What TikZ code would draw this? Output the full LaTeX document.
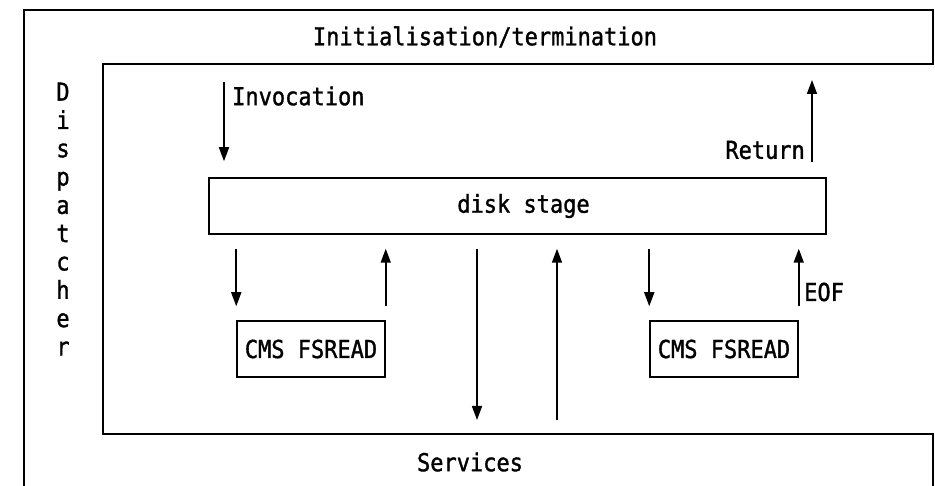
\documentclass[tikz,border=0pt]{standalone}
\usepackage{fontspec}
\newfontfamily\scrfont[FakeStretch=0.89,FakeBold=1.3]{DejaVu Sans Mono}
\usetikzlibrary{arrows.meta}

\begin{document}
\begin{tikzpicture}[x=1pt,y=-1pt,
        frame/.style={line width=1.5pt},
        flow/.style={line width=1.7pt,-{Triangle[length=14pt,width=10pt]}},
        lbl/.style={font=\scrfont\fontsize{24.7}{28.3}\selectfont,inner sep=0pt},
        box/.style={lbl,draw,line width=1.5pt,minimum height=56pt}]
        \useasboundingbox (0,0) rectangle (935,486);

        % Dispatcher, initialisation/termination and services bands
        \draw[frame] (24,486) -- (24,10) -- (933,10) -- (933,64) -- (103,64)
            -- (103,434) -- (933,434) -- (933,486);

        \node[lbl] (init) at (485,37) {Initialisation/termination};
        \node[lbl] (services) at (470,462) {Services};
        \node[lbl,align=center] (dispatcher) at (63,219) {D\\i\\s\\p\\a\\t\\c\\h\\e\\r};

        % The stage and its two calls to the host
        \node[box,minimum width=617pt] (disk) at (517.5,206) {\hspace*{12pt}disk stage};
        \node[box,minimum width=148pt] (fsreadA) at (311,349) {CMS FSREAD};
        \node[box,minimum width=148pt] (fsreadB) at (724,349) {CMS FSREAD};

        % Loose ends of the arrows
        \coordinate (invoke) at (224,82);
        \coordinate (ret) at (812,80);
        \coordinate (svcdown) at (477,420);
        \coordinate (svcup) at (557,420);

        \draw[flow,shorten >=16pt] (invoke) -- (invoke |- disk.north);
        \draw[flow,shorten <=15pt] (ret |- disk.north) -- (ret);
        \node[lbl,anchor=west] (invocation) at (232,96) {Invocation};
        \node[lbl,anchor=east] (return) at (805,150) {Return};

        \draw[flow,shorten <=14pt,shorten >=14pt] (fsreadA.north west |- disk.south) -- (fsreadA.north west);
        \draw[flow,shorten <=14pt,shorten >=14pt] (fsreadA.north east) -- (fsreadA.north east |- disk.south);
        \draw[flow,shorten <=14pt,shorten >=14pt] (fsreadB.north west |- disk.south) -- (fsreadB.north west);
        \draw[flow,shorten <=14pt,shorten >=14pt] (fsreadB.north east) -- (fsreadB.north east |- disk.south);
        \node[lbl,anchor=west] (eof) at (804,292) {EOF};

        \draw[flow,shorten <=14pt] (svcdown |- disk.south) -- (svcdown); % into services
        \draw[flow,shorten >=14pt] (svcup) -- (svcup |- disk.south); % back from services
\end{tikzpicture}
\end{document}
